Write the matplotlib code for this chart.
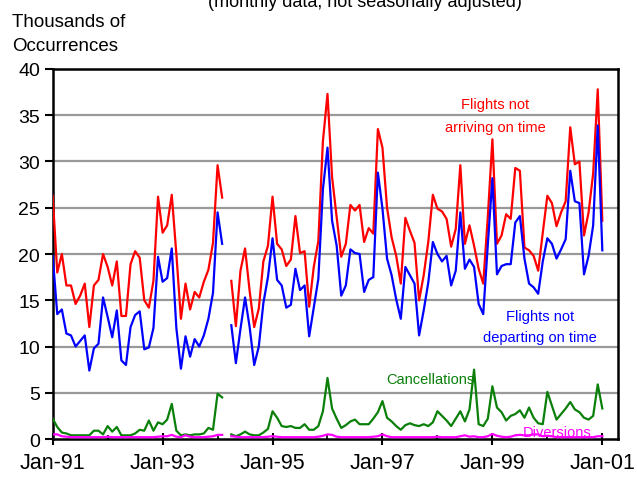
import numpy as np
import matplotlib
matplotlib.use("Agg")
import matplotlib.pyplot as plt
from matplotlib.ticker import FixedLocator

nan = np.nan

# Monthly data Jan-91 .. Jan-01 (thousands of occurrences); Mar-94 missing
arrivals_late = [26.3, 18.0, 20.0, 16.6, 16.6, 14.6, 15.5, 16.8, 12.1, 16.6, 17.2, 20.0,
                 18.6, 16.6, 19.2, 13.3, 13.3, 18.9, 20.3, 19.6, 15.0, 14.2, 17.1, 26.2,
                 22.3, 23.1, 26.4, 20.0, 13.0, 16.8, 14.0, 15.9, 15.3, 17.0, 18.3, 21.2,
                 29.6, 26.1, nan, 17.1, 12.2, 18.2, 20.6, 16.0, 12.1, 14.1, 19.2, 20.9,
                 26.2, 21.1, 20.5, 18.7, 19.4, 24.1, 20.1, 20.3, 14.3, 18.6, 21.4, 32.2,
                 37.3, 28.3, 24.0, 19.7, 21.1, 25.3, 24.7, 25.3, 21.3, 22.8, 22.2, 33.5,
                 31.5, 25.0, 21.8, 19.8, 16.8, 23.9, 22.5, 21.2, 15.0, 17.7, 21.3, 26.4,
                 24.9, 24.6, 23.8, 20.8, 22.7, 29.6, 21.1, 23.1, 20.9, 18.4, 16.8, 24.0,
                 32.4, 21.1, 22.0, 24.3, 23.8, 29.3, 29.0, 20.7, 20.4, 19.8, 18.2, 22.3,
                 26.3, 25.5, 23.0, 24.5, 25.7, 33.7, 29.7, 30.0, 22.0, 24.5, 28.7, 37.8,
                 23.6]

departures_late = [19.8, 13.5, 14.0, 11.4, 11.2, 10.0, 10.6, 11.2, 7.4, 9.8, 10.3, 15.3,
                   13.2, 11.0, 13.9, 8.5, 8.0, 12.1, 13.4, 13.8, 9.7, 9.9, 12.0, 19.7,
                   17.0, 17.4, 20.6, 12.0, 7.6, 11.1, 8.9, 10.8, 10.0, 11.2, 13.0, 15.8,
                   24.5, 21.1, nan, 12.3, 8.2, 11.9, 15.3, 12.1, 8.0, 10.0, 14.7, 17.5,
                   21.7, 17.2, 16.6, 14.2, 14.5, 18.4, 16.1, 16.6, 11.1, 14.2, 17.3, 27.0,
                   31.5, 23.6, 20.9, 15.5, 16.6, 20.5, 20.1, 20.0, 15.9, 17.2, 17.5, 28.8,
                   24.9, 19.5, 17.7, 15.1, 13.0, 18.6, 17.7, 16.8, 11.2, 13.9, 16.9, 21.3,
                   20.0, 19.2, 19.8, 16.6, 18.2, 24.5, 18.4, 19.4, 18.6, 14.6, 13.5, 21.0,
                   28.2, 17.8, 18.7, 18.9, 18.9, 23.4, 24.1, 19.5, 16.8, 16.4, 15.7, 19.2,
                   21.7, 21.1, 19.5, 20.5, 21.6, 29.0, 25.7, 25.5, 17.8, 19.8, 23.1, 33.9,
                   20.4]

cancellations = [2.2, 1.3, 0.7, 0.6, 0.4, 0.4, 0.4, 0.4, 0.4, 0.9, 0.9, 0.5,
                 1.4, 0.8, 1.3, 0.4, 0.4, 0.4, 0.6, 1.0, 0.9, 2.0, 0.9, 1.8,
                 1.6, 2.1, 3.8, 0.9, 0.4, 0.5, 0.4, 0.5, 0.5, 0.6, 1.2, 1.0,
                 4.9, 4.5, nan, 0.5, 0.3, 0.5, 0.8, 0.5, 0.4, 0.4, 0.7, 1.1,
                 3.0, 2.3, 1.4, 1.3, 1.4, 1.2, 1.2, 1.6, 1.0, 1.0, 1.4, 3.0,
                 6.6, 3.3, 2.2, 1.2, 1.5, 1.9, 2.1, 1.6, 1.6, 1.6, 2.2, 2.9,
                 4.1, 2.3, 1.9, 1.4, 1.0, 1.5, 1.7, 1.5, 1.4, 1.6, 1.4, 1.8,
                 3.0, 2.5, 2.0, 1.4, 2.2, 3.0, 1.9, 3.2, 7.5, 1.6, 1.4, 2.2,
                 5.7, 3.4, 2.9, 2.0, 2.5, 2.7, 3.1, 2.3, 3.4, 2.3, 1.7, 1.6,
                 5.1, 3.6, 2.1, 2.7, 3.3, 4.0, 3.2, 2.9, 2.3, 2.1, 2.5, 5.9,
                 3.3]

diversions = [0.5, 0.5, 0.3, 0.25, 0.2, 0.2, 0.2, 0.2, 0.2, 0.2, 0.2, 0.2,
              0.25, 0.2, 0.2, 0.2, 0.2, 0.2, 0.2, 0.2, 0.2, 0.2, 0.2, 0.25,
              0.3, 0.3, 0.45, 0.25, 0.2, 0.4, 0.25, 0.2, 0.2, 0.2, 0.25, 0.3,
              0.45, 0.45, nan, 0.3, 0.25, 0.2, 0.2, 0.2, 0.2, 0.2, 0.2, 0.25,
              0.3, 0.25, 0.2, 0.2, 0.2, 0.2, 0.2, 0.2, 0.2, 0.2, 0.25, 0.35,
              0.5, 0.45, 0.25, 0.2, 0.2, 0.2, 0.2, 0.2, 0.2, 0.2, 0.25, 0.3,
              0.5, 0.3, 0.2, 0.2, 0.2, 0.2, 0.2, 0.2, 0.2, 0.2, 0.2, 0.2,
              0.25, 0.2, 0.2, 0.2, 0.2, 0.3, 0.4, 0.25, 0.3, 0.2, 0.2, 0.3,
              0.55, 0.35, 0.25, 0.2, 0.25, 0.4, 0.45, 0.4, 0.4, 0.5, 0.5, 0.3,
              0.35, 0.3, 0.2, 0.2, 0.2, 0.2, 0.2, 0.2, 0.2, 0.2, 0.2, 0.3,
              0.3]

tick_labels = ["Jan-91", "Jan-93", "Jan-95", "Jan-97", "Jan-99", "Jan-01"]
y_ticks = [0, 5, 10, 15, 20, 25, 30, 35, 40]

months = np.arange(len(arrivals_late))

plt.rcParams['font.family'] = ['Liberation Sans', 'DejaVu Sans']

fig = plt.figure(figsize=(6.37, 4.81), dpi=100)
ax = fig.add_axes([0.0827, 0.0852, 0.8873, 0.7693])

for v in y_ticks[1:-1]:
    ax.axhline(v, color='#999999', lw=1.6, zorder=1)

lw = 1.6
ax.plot(months, arrivals_late, color='#ff0000', lw=lw, zorder=3)
ax.plot(months, departures_late, color='#0000ff', lw=lw, zorder=3)
ax.plot(months, cancellations, color='#0a800a', lw=lw, zorder=3)
ax.plot(months, diversions, color='#ff00ff', lw=lw, zorder=3)

ax.set_xlim(0, 123.4)
ax.set_ylim(0, 40)
ax.xaxis.set_major_locator(FixedLocator(np.arange(0, 121, 24)))
ax.set_xticklabels(tick_labels)
ax.xaxis.set_minor_locator(FixedLocator(np.arange(12, 121, 24)))
ax.set_yticks(y_ticks)

for s in ax.spines.values():
    s.set_linewidth(1.8)
    s.set_color('black')

ax.tick_params(axis='y', direction='out', length=6, width=1.5, labelsize=14, pad=3)
ax.tick_params(axis='x', which='major', direction='inout', length=9, width=1.5,
               labelsize=15.5, pad=5)
ax.tick_params(axis='x', which='minor', direction='in', length=3, width=1.2)

fig.text(365 / 637, 1 - 7 / 481, "(monthly data, not seasonally adjusted)",
         ha='center', va='baseline', fontsize=13)
fig.text(12 / 637, 1 - 27 / 481, "Thousands of", ha='left', va='baseline', fontsize=13.5)
fig.text(12 / 637, 1 - 51 / 481, "Occurrences", ha='left', va='baseline', fontsize=13.5)

ann = dict(ha='center', va='center', fontsize=10.5)
fig.text(495 / 637, 1 - 105 / 481, "Flights not", color='#ff0000', **ann)
fig.text(495 / 637, 1 - 128 / 481, "arriving on time", color='#ff0000', **ann)
fig.text(540 / 637, 1 - 317 / 481, "Flights not", color='#0000ff', **ann)
fig.text(540 / 637, 1 - 338 / 481, "departing on time", color='#0000ff', **ann)
fig.text(430 / 637, 1 - 380 / 481, "Cancellations", color='#0a800a', **ann)
fig.text(557 / 637, 1 - 433 / 481, "Diversions", color='#ff00ff', **ann)

fig.savefig("out.png", dpi=100)
